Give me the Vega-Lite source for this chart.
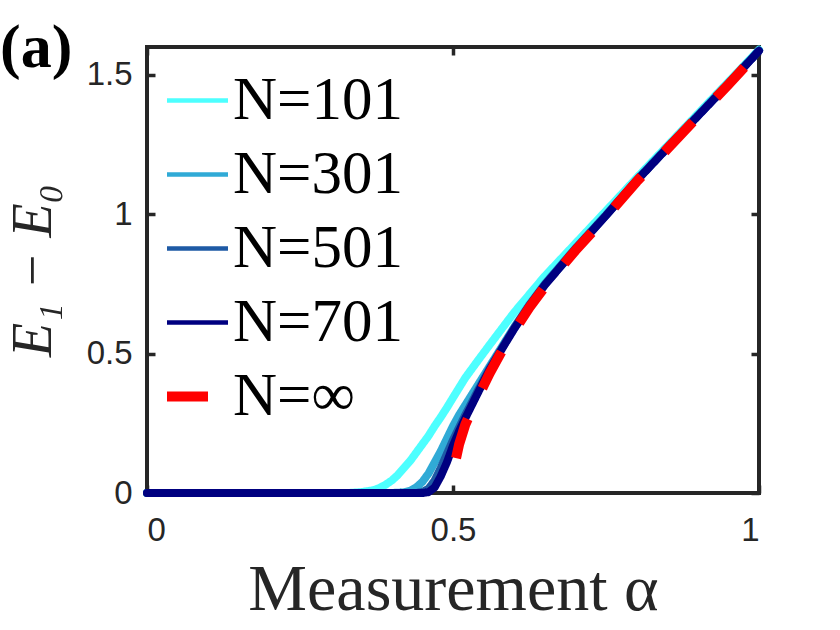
{
  "$schema": "https://vega.github.io/schema/vega-lite/v6.json",
  "width": 612,
  "height": 446,
  "autosize": {"type": "none"},
  "padding": {"left": 147, "top": 47, "right": 81, "bottom": 137},
  "background": "white",
  "title": {"text": "(a)", "anchor": "start", "frame": "group", "font": "Liberation Serif", "fontSize": 62, "fontWeight": "bold", "color": "black", "dx": -147, "dy": 98, "offset": 0, "baseline": "alphabetic"},
  "config": {
    "view": {"stroke": "#262626", "strokeWidth": 4},
    "axis": {"labelFont": "Liberation Sans", "labelFontSize": 33, "labelColor": "#262626", "domain": false, "grid": false, "tickColor": "#262626", "tickWidth": 3.5, "tickSize": -8, "titleFont": "Liberation Serif", "titleFontSize": 60, "titleColor": "#262626", "titleFontWeight": "normal"},
    "legend": {"orient": "none", "legendX": 20, "legendY": 23, "title": null, "symbolType": "stroke", "symbolSize": 3721, "labelFont": "Liberation Serif", "labelFontSize": 61, "labelColor": "black", "labelOffset": 5, "rowPadding": 12, "padding": 0, "symbolStrokeWidth": 4.5, "labelLimit": 0}
  },
  "data": {"values": [
    {"a":0,"g":0,"N":"N=101"},{"a":0.1,"g":0,"N":"N=101"},{"a":0.2,"g":0,"N":"N=101"},{"a":0.3,"g":0,"N":"N=101"},{"a":0.33,"g":0,"N":"N=101"},{"a":0.35,"g":0.003,"N":"N=101"},{"a":0.37,"g":0.01,"N":"N=101"},{"a":0.38,"g":0.018,"N":"N=101"},{"a":0.39,"g":0.03,"N":"N=101"},{"a":0.40,"g":0.045,"N":"N=101"},{"a":0.41,"g":0.065,"N":"N=101"},{"a":0.42,"g":0.09,"N":"N=101"},{"a":0.43,"g":0.115,"N":"N=101"},{"a":0.44,"g":0.145,"N":"N=101"},{"a":0.45,"g":0.175,"N":"N=101"},{"a":0.46,"g":0.205,"N":"N=101"},{"a":0.47,"g":0.24,"N":"N=101"},{"a":0.48,"g":0.272,"N":"N=101"},{"a":0.49,"g":0.306,"N":"N=101"},{"a":0.50,"g":0.342,"N":"N=101"},{"a":0.52,"g":0.413,"N":"N=101"},{"a":0.54,"g":0.473,"N":"N=101"},{"a":0.56,"g":0.532,"N":"N=101"},{"a":0.58,"g":0.59,"N":"N=101"},{"a":0.60,"g":0.648,"N":"N=101"},{"a":0.65,"g":0.778,"N":"N=101"},{"a":0.70,"g":0.895,"N":"N=101"},{"a":0.75,"g":1.012,"N":"N=101"},{"a":0.80,"g":1.13,"N":"N=101"},{"a":0.85,"g":1.245,"N":"N=101"},{"a":0.90,"g":1.36,"N":"N=101"},{"a":0.95,"g":1.475,"N":"N=101"},{"a":1.0,"g":1.59,"N":"N=101"},
    {"a":0,"g":0,"N":"N=301"},{"a":0.1,"g":0,"N":"N=301"},{"a":0.2,"g":0,"N":"N=301"},{"a":0.3,"g":0,"N":"N=301"},{"a":0.4,"g":0,"N":"N=301"},{"a":0.42,"g":0.002,"N":"N=301"},{"a":0.43,"g":0.008,"N":"N=301"},{"a":0.44,"g":0.02,"N":"N=301"},{"a":0.45,"g":0.04,"N":"N=301"},{"a":0.46,"g":0.07,"N":"N=301"},{"a":0.47,"g":0.11,"N":"N=301"},{"a":0.48,"g":0.15,"N":"N=301"},{"a":0.49,"g":0.195,"N":"N=301"},{"a":0.50,"g":0.24,"N":"N=301"},{"a":0.51,"g":0.28,"N":"N=301"},{"a":0.52,"g":0.315,"N":"N=301"},{"a":0.53,"g":0.35,"N":"N=301"},{"a":0.54,"g":0.385,"N":"N=301"},{"a":0.56,"g":0.455,"N":"N=301"},{"a":0.58,"g":0.525,"N":"N=301"},{"a":0.60,"g":0.595,"N":"N=301"},{"a":0.625,"g":0.677,"N":"N=301"},{"a":0.65,"g":0.75,"N":"N=301"},{"a":0.70,"g":0.878,"N":"N=301"},{"a":0.75,"g":0.998,"N":"N=301"},{"a":0.80,"g":1.123,"N":"N=301"},{"a":0.85,"g":1.24,"N":"N=301"},{"a":0.90,"g":1.355,"N":"N=301"},{"a":0.95,"g":1.47,"N":"N=301"},{"a":1.0,"g":1.588,"N":"N=301"},
    {"a":0,"g":0,"N":"N=501"},{"a":0.1,"g":0,"N":"N=501"},{"a":0.2,"g":0,"N":"N=501"},{"a":0.3,"g":0,"N":"N=501"},{"a":0.4,"g":0,"N":"N=501"},{"a":0.44,"g":0,"N":"N=501"},{"a":0.45,"g":0.004,"N":"N=501"},{"a":0.46,"g":0.015,"N":"N=501"},{"a":0.47,"g":0.045,"N":"N=501"},{"a":0.48,"g":0.09,"N":"N=501"},{"a":0.49,"g":0.14,"N":"N=501"},{"a":0.50,"g":0.19,"N":"N=501"},{"a":0.51,"g":0.235,"N":"N=501"},{"a":0.52,"g":0.28,"N":"N=501"},{"a":0.53,"g":0.322,"N":"N=501"},{"a":0.54,"g":0.365,"N":"N=501"},{"a":0.56,"g":0.448,"N":"N=501"},{"a":0.58,"g":0.52,"N":"N=501"},{"a":0.60,"g":0.592,"N":"N=501"},{"a":0.625,"g":0.674,"N":"N=501"},{"a":0.65,"g":0.748,"N":"N=501"},{"a":0.70,"g":0.876,"N":"N=501"},{"a":0.75,"g":0.996,"N":"N=501"},{"a":0.80,"g":1.121,"N":"N=501"},{"a":0.85,"g":1.238,"N":"N=501"},{"a":0.90,"g":1.353,"N":"N=501"},{"a":0.95,"g":1.468,"N":"N=501"},{"a":1.0,"g":1.587,"N":"N=501"},
    {"a":0,"g":0,"N":"N=701"},{"a":0.1,"g":0,"N":"N=701"},{"a":0.2,"g":0,"N":"N=701"},{"a":0.3,"g":0,"N":"N=701"},{"a":0.4,"g":0,"N":"N=701"},{"a":0.45,"g":0,"N":"N=701"},{"a":0.46,"g":0.003,"N":"N=701"},{"a":0.47,"g":0.02,"N":"N=701"},{"a":0.48,"g":0.06,"N":"N=701"},{"a":0.49,"g":0.11,"N":"N=701"},{"a":0.50,"g":0.17,"N":"N=701"},{"a":0.51,"g":0.222,"N":"N=701"},{"a":0.52,"g":0.268,"N":"N=701"},{"a":0.53,"g":0.312,"N":"N=701"},{"a":0.54,"g":0.356,"N":"N=701"},{"a":0.55,"g":0.4,"N":"N=701"},{"a":0.56,"g":0.442,"N":"N=701"},{"a":0.58,"g":0.517,"N":"N=701"},{"a":0.60,"g":0.589,"N":"N=701"},{"a":0.625,"g":0.672,"N":"N=701"},{"a":0.65,"g":0.746,"N":"N=701"},{"a":0.70,"g":0.874,"N":"N=701"},{"a":0.75,"g":0.995,"N":"N=701"},{"a":0.80,"g":1.12,"N":"N=701"},{"a":0.85,"g":1.237,"N":"N=701"},{"a":0.90,"g":1.352,"N":"N=701"},{"a":0.95,"g":1.467,"N":"N=701"},{"a":1.0,"g":1.586,"N":"N=701"},
    {"a":0.505,"g":0.125,"N":"N=∞"},{"a":0.51,"g":0.175,"N":"N=∞"},{"a":0.52,"g":0.245,"N":"N=∞"},{"a":0.53,"g":0.295,"N":"N=∞"},{"a":0.54,"g":0.34,"N":"N=∞"},{"a":0.55,"g":0.385,"N":"N=∞"},{"a":0.56,"g":0.43,"N":"N=∞"},{"a":0.58,"g":0.51,"N":"N=∞"},{"a":0.60,"g":0.582,"N":"N=∞"},{"a":0.625,"g":0.666,"N":"N=∞"},{"a":0.65,"g":0.74,"N":"N=∞"},{"a":0.70,"g":0.87,"N":"N=∞"},{"a":0.75,"g":0.99,"N":"N=∞"},{"a":0.80,"g":1.117,"N":"N=∞"},{"a":0.85,"g":1.234,"N":"N=∞"},{"a":0.90,"g":1.35,"N":"N=∞"},{"a":0.95,"g":1.465,"N":"N=∞"},{"a":1.0,"g":1.585,"N":"N=∞"}
  ]},
  "resolve": {"axis": {"x": "independent", "y": "independent"}},
  "layer": [
    {
      "transform": [{"filter": "datum.N !== 'N=∞'"}],
      "mark": {"type": "line", "strokeWidth": 8, "clip": false, "strokeCap": "round", "strokeJoin": "round"},
      "encoding": {
        "x": {"field": "a", "type": "quantitative", "scale": {"domain": [0, 1], "nice": false}, "axis": {"values": [0, 0.5, 1], "format": "~g", "labelPadding": 29, "title": "Measurement α", "titlePadding": 10, "titleFontSize": 66}},
        "y": {"field": "g", "type": "quantitative", "scale": {"domain": [0, 1.6], "nice": false}, "axis": {"values": [0, 0.5, 1, 1.5], "format": "~g", "labelPadding": 23, "title": "E₁ − E₀", "titleFontStyle": "italic", "titleFontSize": 56, "titlePadding": 24}},
        "color": {"field": "N", "type": "nominal", "scale": {"domain": ["N=101", "N=301", "N=501", "N=701", "N=∞"], "range": ["#4DFFFF", "#30AAD6", "#1E5AA5", "#000080", "#FF0000"]}, "legend": {"encode": {"symbols": {"update": {"strokeWidth": {"signal": "datum.value === 'N=∞' ? 10 : 4.5"}}}}}},
        "strokeDash": {"field": "N", "type": "nominal", "scale": {"domain": ["N=101", "N=301", "N=501", "N=701", "N=∞"], "range": [[1, 0], [1, 0], [1, 0], [1, 0], [41, 34]]}}
      }
    },
    {
      "transform": [{"filter": "datum.N === 'N=∞'"}],
      "mark": {"type": "line", "strokeWidth": 10, "clip": false},
      "encoding": {
        "x": {"field": "a", "type": "quantitative", "axis": null},
        "y": {"field": "g", "type": "quantitative", "axis": null},
        "color": {"field": "N", "type": "nominal"},
        "strokeDash": {"field": "N", "type": "nominal"}
      }
    },
    {
      "mark": {"type": "point", "opacity": 0},
      "encoding": {
        "x": {"field": "a", "type": "quantitative", "axis": {"orient": "top", "values": [0, 0.5, 1], "labels": false, "title": null}},
        "y": {"field": "g", "type": "quantitative", "axis": {"orient": "right", "values": [0, 0.5, 1, 1.5], "labels": false, "title": null}}
      }
    }
  ]
}
